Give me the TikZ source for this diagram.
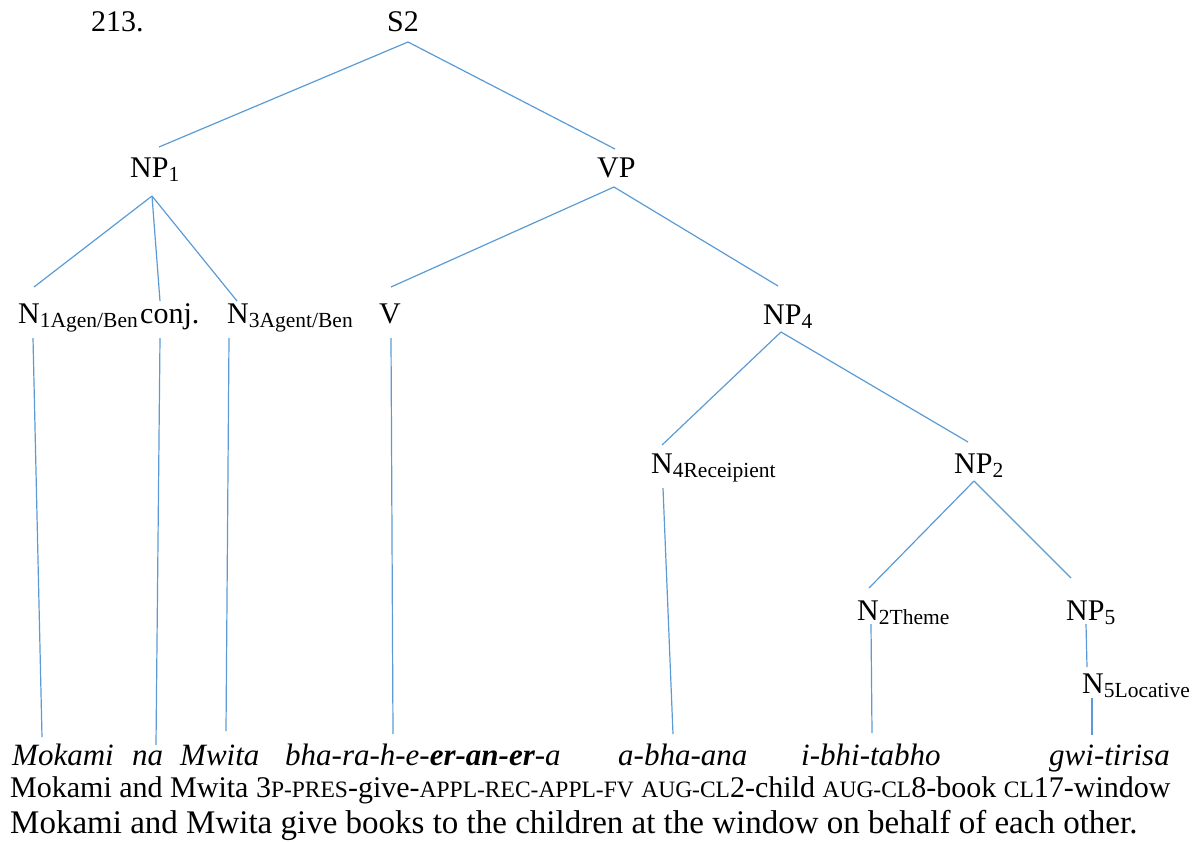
\documentclass[tikz,border=0pt]{standalone}
\usepackage{fontspec}
\setmainfont{Liberation Serif}[
  ItalicFont=Liberation Serif Italic,
  BoldFont=Liberation Serif Bold,
  BoldItalicFont=Liberation Serif Bold Italic]
\definecolor{branch}{HTML}{5B9BD5}
% lowered subscript on category labels
\newcommand\lsub[1]{\raisebox{-4.5pt}{\fontsize{21.5}{21.5}\selectfont #1}}
% small capitals for gloss abbreviations
\newcommand\smc[1]{{\fontsize{23.5}{23.5}\selectfont #1}}
\begin{document}
\begin{tikzpicture}[x=1pt,y=-1pt,
  lab/.style={inner sep=0pt, anchor=base west, font=\fontsize{30}{30}\selectfont},
  leaf/.style={inner sep=0pt, anchor=base west, font=\fontsize{31}{31}\selectfont\itshape},
  line/.style={inner sep=0pt, anchor=base west},
  link/.style={draw=branch, line width=1.2pt}]
\useasboundingbox (0,0) rectangle (1199,841);

% tree labels
\node[lab] (n213) at (91,31) {213.};
\node[lab] (s2) at (387,31) {S2};
\node[lab] (np1) at (130,177) {NP\lsub{1}};
\node[lab] (vp) at (597,177) {VP};
\node[lab] (n1) at (18,323) {N\lsub{1Agen/Ben}};
\node[lab] (conj) at (140,323) {conj.};
\node[lab] (n3) at (227,323) {N\lsub{3Agent/Ben}};
\node[lab] (v) at (379,323) {V};
\node[lab] (np4) at (763,324) {NP\lsub{4}};
\node[lab] (n4) at (651,473) {N\lsub{4Receipient}};
\node[lab] (np2) at (954,473) {NP\lsub{2}};
\node[lab] (n2) at (857,620) {N\lsub{2Theme}};
\node[lab] (np5) at (1066,620) {NP\lsub{5}};
\node[lab] (n5) at (1082,693) {N\lsub{5Locative}};

% words
\node[leaf] (mokami) at (12,765) {Mokami};
\node[leaf] (na) at (132,765) {na};
\node[leaf] (mwita) at (180,765) {Mwita};
\node[leaf] (verb) at (285,765) {bha-ra-h-e-\textbf{er-an-er}-a};
\node[leaf] (abhaana) at (618,765) {a-bha-ana};
\node[leaf] (ibhi) at (801,765) {i-bhi-tabho};
\node[leaf] (gwi) at (1049,765) {gwi-tirisa};

% gloss and translation
\node[line, font=\fontsize{30}{30}\selectfont] (gloss) at (10,797)
  {Mokami and Mwita 3\smc{P-PRES}-give-\smc{APPL-REC-APPL-FV} \smc{AUG-CL}2-child \smc{AUG-CL}8-book \smc{CL}17-window};
\node[line, font=\fontsize{33}{33}\selectfont] (transl) at (10,833)
  {Mokami and Mwita give books to the children at the window on behalf of each other.};

% branches
\draw[link] ([shift={(21,11)}]s2.base west) -- ([shift={(29,-30)}]np1.base west);
\draw[link] ([shift={(21,11)}]s2.base west) -- ([shift={(18,-28)}]vp.base west);
\draw[link] ([shift={(22,19)}]np1.base west) -- ([shift={(16,-36)}]n1.base west);
\draw[link] ([shift={(22,19)}]np1.base west) -- ([shift={(20,-22)}]conj.base west);
\draw[link] ([shift={(22,19)}]np1.base west) -- ([shift={(10,-22)}]n3.base west);
\draw[link] ([shift={(17,10)}]vp.base west) -- ([shift={(12,-36)}]v.base west);
\draw[link] ([shift={(17,10)}]vp.base west) -- ([shift={(15,-38)}]np4.base west);
\draw[link] ([shift={(15,15)}]n1.base west) -- ([shift={(30,-28)}]mokami.base west);
\draw[link] ([shift={(20,15)}]conj.base west) -- ([shift={(24,-20)}]na.base west);
\draw[link] ([shift={(2,15)}]n3.base west) -- ([shift={(46,-34)}]mwita.base west);
\draw[link] ([shift={(12,15)}]v.base west) -- ([shift={(108,-31)}]verb.base west);
\draw[link] ([shift={(18,8)}]np4.base west) -- ([shift={(11,-28)}]n4.base west);
\draw[link] ([shift={(18,8)}]np4.base west) -- ([shift={(14,-31)}]np2.base west);
\draw[link] ([shift={(12,15)}]n4.base west) -- ([shift={(55,-31)}]abhaana.base west);
\draw[link] ([shift={(20,8)}]np2.base west) -- ([shift={(12,-32)}]n2.base west);
\draw[link] ([shift={(20,8)}]np2.base west) -- ([shift={(5,-42)}]np5.base west);
\draw[link] ([shift={(14,4)}]n2.base west) -- ([shift={(71,-32)}]ibhi.base west);
\draw[link] ([shift={(20,4)}]np5.base west) -- ([shift={(5,-26)}]n5.base west);
\draw[link] ([shift={(10,5)}]n5.base west) -- ([shift={(43,-30)}]gwi.base west);
\end{tikzpicture}
\end{document}
